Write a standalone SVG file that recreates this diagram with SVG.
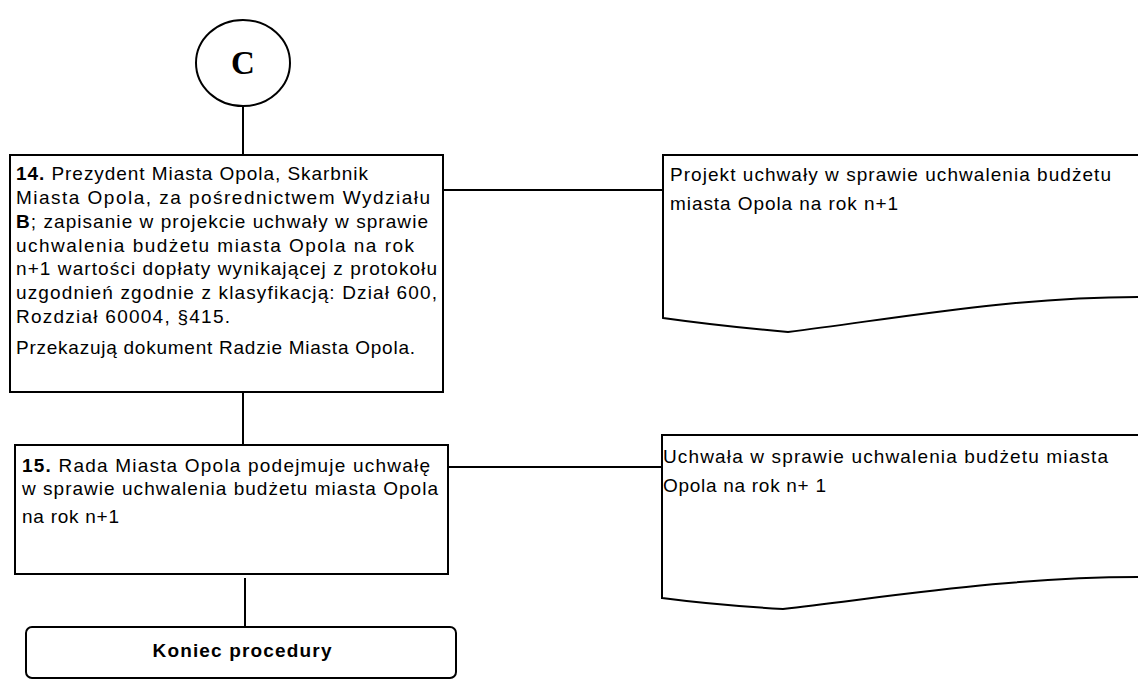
<svg xmlns="http://www.w3.org/2000/svg" width="1138" height="680" viewBox="0 0 1138 680">
<style>
.s{fill:none;stroke:#000;stroke-width:2}
.b{fill:#fff;stroke:#000;stroke-width:2}
.t{font-family:"Liberation Sans",Arial,sans-serif;font-size:19px;fill:#000}
.bd{font-weight:bold}
.c{font-family:"Liberation Serif","Times New Roman",serif;font-size:33px;font-weight:bold;fill:#000}
</style>
<rect width="1138" height="680" fill="#fff"/>
<g id="connectors">
<line class="s" x1="243" y1="106" x2="243" y2="155"/>
<line class="s" x1="243" y1="392" x2="243" y2="445"/>
<line class="s" x1="245" y1="578" x2="245" y2="627"/>
<line class="s" x1="443" y1="190" x2="663" y2="190"/>
<line class="s" x1="445" y1="467" x2="662" y2="467"/>
</g>
<g id="connectorC">
<ellipse class="b" cx="243" cy="63" rx="47" ry="43"/>
<text class="c" x="243" y="74" text-anchor="middle">C</text>
</g>
<g id="step14">
<rect class="b" x="10" y="155" width="433" height="237"/>
<text class="t" x="16" y="180" textLength="352" lengthAdjust="spacing"><tspan class="bd">14.</tspan> Prezydent Miasta Opola, Skarbnik</text>
<text class="t" x="16" y="204" textLength="414" lengthAdjust="spacing">Miasta Opola, za pośrednictwem Wydziału</text>
<text class="t" x="16" y="228" textLength="412" lengthAdjust="spacing"><tspan class="bd">B</tspan>; zapisanie w projekcie uchwały w sprawie</text>
<text class="t" x="16" y="252" textLength="398" lengthAdjust="spacing">uchwalenia budżetu miasta Opola na rok</text>
<text class="t" x="16" y="275" textLength="421" lengthAdjust="spacing">n+1 wartości dopłaty wynikającej z protokołu</text>
<text class="t" x="16" y="299" textLength="421" lengthAdjust="spacing">uzgodnień zgodnie z  klasyfikacją: Dział 600,</text>
<text class="t" x="16" y="323" textLength="214" lengthAdjust="spacing">Rozdział 60004, §415.</text>
<text class="t" x="16" y="354" textLength="399" lengthAdjust="spacing">Przekazują dokument Radzie Miasta Opola.</text>
</g>
<g id="doc1">
<path class="b" d="M663,155 H1140 V297 C1010,297 900,318 788,332 Q720,326 663,318 Z"/>
<text class="t" x="670" y="181" textLength="441" lengthAdjust="spacing">Projekt uchwały w sprawie uchwalenia budżetu</text>
<text class="t" x="670" y="210" textLength="228" lengthAdjust="spacing">miasta Opola na rok n+1</text>
</g>
<g id="step15">
<rect class="b" x="15" y="445" width="433" height="129"/>
<text class="t" x="22" y="472" textLength="408" lengthAdjust="spacing"><tspan class="bd">15.</tspan> Rada Miasta Opola podejmuje uchwałę</text>
<text class="t" x="22" y="495" textLength="416" lengthAdjust="spacing">w sprawie uchwalenia budżetu miasta Opola</text>
<text class="t" x="22" y="523" textLength="97" lengthAdjust="spacing">na rok n+1</text>
</g>
<g id="doc2">
<path class="b" d="M662,435 H1140 V577 C1010,577 895,596 783,609 Q715,605 662,598 Z"/>
<text class="t" x="663" y="463" textLength="445" lengthAdjust="spacing">Uchwała w sprawie uchwalenia budżetu miasta</text>
<text class="t" x="663" y="492" textLength="163" lengthAdjust="spacing">Opola na rok n+ 1</text>
</g>
<g id="end">
<rect class="b" x="26" y="627" width="430" height="51" rx="6"/>
<text class="t bd" x="242" y="657" text-anchor="middle" textLength="179" lengthAdjust="spacing">Koniec procedury</text>
</g>
</svg>
